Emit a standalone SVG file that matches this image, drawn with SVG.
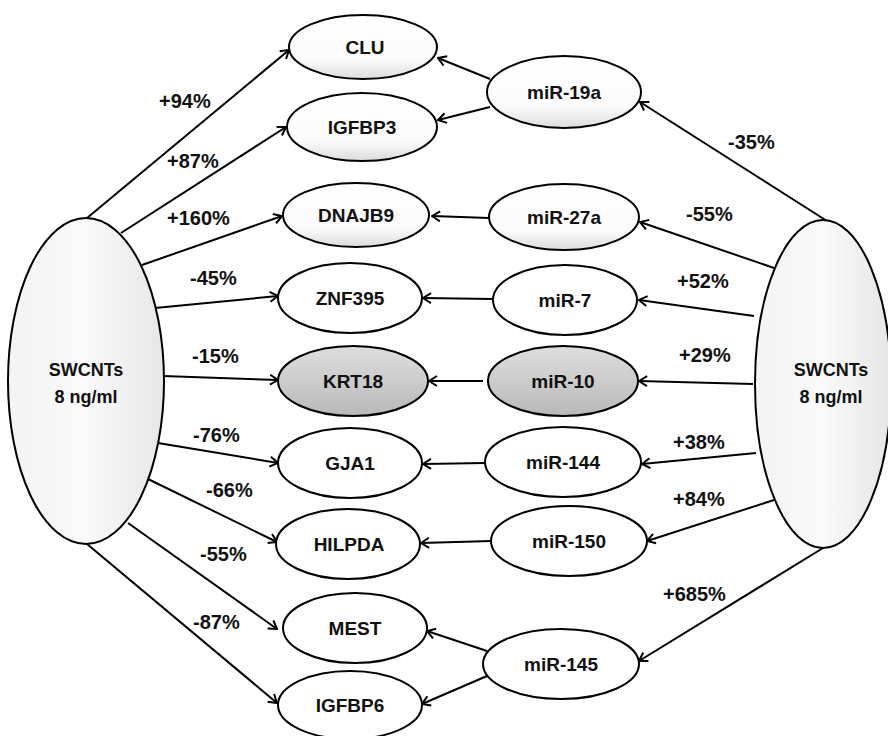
<svg xmlns="http://www.w3.org/2000/svg" width="888" height="736" viewBox="0 0 888 736">
<defs>
<style>
.n{stroke:#000;stroke-width:2}
.t{font-family:"Liberation Sans",Arial,sans-serif;font-weight:bold;font-size:19px;fill:#111;text-anchor:middle}
.s{font-size:18px}
.l{font-family:"Liberation Sans",Arial,sans-serif;font-weight:bold;font-size:20px;fill:#111}
.c{stroke:#000;stroke-width:2;fill:none;marker-end:url(#ah)}
</style>
<linearGradient id="gw" x1="0" y1="0" x2="0" y2="1">
<stop offset="0" stop-color="#ffffff"/>
<stop offset="0.7" stop-color="#fbfbfb"/>
<stop offset="1" stop-color="#dcdcdc"/>
</linearGradient>
<linearGradient id="gb" x1="0" y1="0" x2="1" y2="0">
<stop offset="0" stop-color="#f3f3f3"/>
<stop offset="0.5" stop-color="#fafafa"/>
<stop offset="1" stop-color="#e6e6e6"/>
</linearGradient>
<linearGradient id="gg" x1="0" y1="0" x2="0" y2="1">
<stop offset="0" stop-color="#dedede"/>
<stop offset="0.6" stop-color="#c8c8c8"/>
<stop offset="1" stop-color="#b8b8b8"/>
</linearGradient>
<marker id="ah" viewBox="0 0 10 12" refX="9" refY="6" markerWidth="10" markerHeight="12" markerUnits="userSpaceOnUse" orient="auto">
<path d="M1,1 L9,6 L1,11" fill="none" stroke="#000" stroke-width="2"/>
</marker>
</defs>
<rect width="888" height="736" fill="#fff"/>

<g id="connectors">
<line class="c" x1="87" y1="218" x2="289" y2="50"/>
<line class="c" x1="121" y1="233" x2="286" y2="127"/>
<line class="c" x1="142" y1="265" x2="282" y2="216"/>
<line class="c" x1="155" y1="308" x2="278" y2="296"/>
<line class="c" x1="163" y1="376" x2="278" y2="380"/>
<line class="c" x1="158" y1="443" x2="278" y2="463"/>
<line class="c" x1="148" y1="479" x2="277" y2="542"/>
<line class="c" x1="128" y1="523" x2="277" y2="629"/>
<line class="c" x1="87" y1="544" x2="277" y2="703"/>

<line class="c" x1="827" y1="221" x2="640" y2="102"/>
<line class="c" x1="774" y1="268" x2="640" y2="222"/>
<line class="c" x1="754" y1="316" x2="639" y2="300"/>
<line class="c" x1="753" y1="384" x2="639" y2="381"/>
<line class="c" x1="756" y1="453" x2="642" y2="464"/>
<line class="c" x1="774" y1="500" x2="647" y2="541"/>
<line class="c" x1="823" y1="548" x2="639" y2="661"/>

<line class="c" x1="490" y1="79" x2="438" y2="58"/>
<line class="c" x1="490" y1="107" x2="438" y2="120"/>
<line class="c" x1="489" y1="218" x2="432" y2="216"/>
<line class="c" x1="493" y1="299" x2="423" y2="298"/>
<line class="c" x1="483" y1="381" x2="429" y2="381"/>
<line class="c" x1="485" y1="463" x2="423" y2="464"/>
<line class="c" x1="491" y1="541" x2="421" y2="543"/>
<line class="c" x1="487" y1="651" x2="427" y2="631"/>
<line class="c" x1="487" y1="676" x2="422" y2="704"/>
</g>

<g id="swcnts-left">
<ellipse class="n" cx="86" cy="381" rx="78" ry="163" fill="url(#gb)"/>
<text class="t s" x="86" y="376">SWCNTs</text>
<text class="t s" x="86" y="403">8 ng/ml</text>
</g>
<g id="swcnts-right">
<ellipse class="n" cx="823" cy="384" rx="68" ry="164" fill="url(#gb)"/>
<text class="t s" x="831" y="376">SWCNTs</text>
<text class="t s" x="831" y="403">8 ng/ml</text>
</g>

<g id="CLU"><ellipse class="n" cx="363" cy="47" rx="74" ry="32" fill="url(#gw)"/><text class="t" x="365" y="54">CLU</text></g>
<g id="IGFBP3"><ellipse class="n" cx="362" cy="127" rx="75" ry="34" fill="url(#gw)"/><text class="t" x="362" y="134">IGFBP3</text></g>
<g id="DNAJB9"><ellipse class="n" cx="356" cy="215" rx="73" ry="32" fill="url(#gw)"/><text class="t" x="356" y="222">DNAJB9</text></g>
<g id="ZNF395"><ellipse class="n" cx="350" cy="298" rx="72" ry="35" fill="#fff" stroke-width="2.5"/><text class="t" x="350" y="305">ZNF395</text></g>
<g id="KRT18"><ellipse class="n" cx="353" cy="381" rx="75" ry="35" fill="url(#gg)"/><text class="t" x="353" y="388">KRT18</text></g>
<g id="GJA1"><ellipse class="n" cx="350" cy="463" rx="72" ry="35" fill="#fff" stroke-width="2.5"/><text class="t" x="350" y="470">GJA1</text></g>
<g id="HILPDA"><ellipse class="n" cx="348" cy="544" rx="72" ry="35" fill="#fff" stroke-width="2.5"/><text class="t" x="349" y="551">HILPDA</text></g>
<g id="MEST"><ellipse class="n" cx="355" cy="628" rx="72" ry="35" fill="#fff" stroke-width="2.5"/><text class="t" x="355" y="635">MEST</text></g>
<g id="IGFBP6"><ellipse class="n" cx="350" cy="705" rx="72" ry="34" fill="#fff" stroke-width="2.5"/><text class="t" x="350" y="712">IGFBP6</text></g>

<g id="miR-19a"><ellipse class="n" cx="564" cy="92" rx="77" ry="36" fill="url(#gw)"/><text class="t" x="564" y="99">miR-19a</text></g>
<g id="miR-27a"><ellipse class="n" cx="564" cy="217" rx="75" ry="33" fill="url(#gw)"/><text class="t" x="564" y="224">miR-27a</text></g>
<g id="miR-7"><ellipse class="n" cx="565" cy="300" rx="72" ry="35" fill="#fff" stroke-width="2.5"/><text class="t" x="565" y="307">miR-7</text></g>
<g id="miR-10"><ellipse class="n" cx="563" cy="381" rx="75" ry="35" fill="url(#gg)"/><text class="t" x="563" y="388">miR-10</text></g>
<g id="miR-144"><ellipse class="n" cx="563" cy="462" rx="78" ry="35" fill="#fff" stroke-width="2.5"/><text class="t" x="563" y="469">miR-144</text></g>
<g id="miR-150"><ellipse class="n" cx="569" cy="541" rx="78" ry="35" fill="#fff" stroke-width="2.5"/><text class="t" x="569" y="548">miR-150</text></g>
<g id="miR-145"><ellipse class="n" cx="561" cy="664" rx="78" ry="35" fill="#fff" stroke-width="2.5"/><text class="t" x="561" y="671">miR-145</text></g>

<g id="labels">
<text class="l" x="159" y="108">+94%</text>
<text class="l" x="167" y="168">+87%</text>
<text class="l" x="167" y="225">+160%</text>
<text class="l" x="190" y="285">-45%</text>
<text class="l" x="192" y="363">-15%</text>
<text class="l" x="193" y="442">-76%</text>
<text class="l" x="206" y="497">-66%</text>
<text class="l" x="200" y="561">-55%</text>
<text class="l" x="193" y="629">-87%</text>
<text class="l" x="728" y="149">-35%</text>
<text class="l" x="686" y="221">-55%</text>
<text class="l" x="677" y="288">+52%</text>
<text class="l" x="679" y="362">+29%</text>
<text class="l" x="673" y="449">+38%</text>
<text class="l" x="673" y="506">+84%</text>
<text class="l" x="663" y="601">+685%</text>
</g>
</svg>
